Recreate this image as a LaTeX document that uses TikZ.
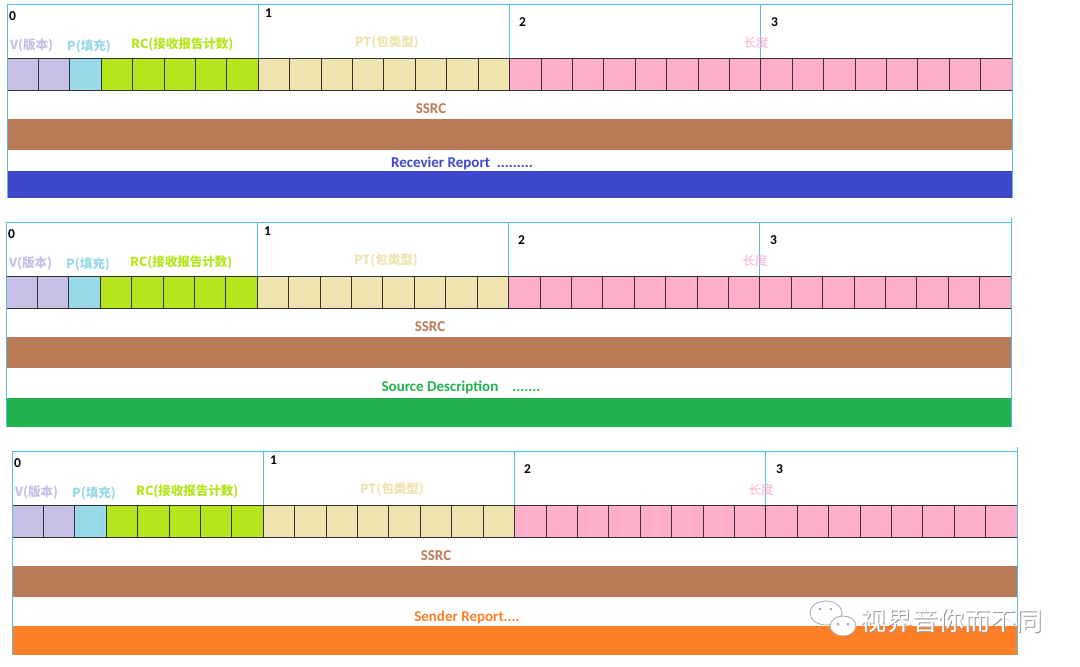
\documentclass[tikz,border=0pt]{standalone}
\usepackage{fontspec}
\setmainfont{Carlito}
\newfontfamily\cjk{Noto Sans CJK SC}
\definecolor{vcol}{HTML}{C8BFE7}
\definecolor{pcol}{HTML}{99D9EA}
\definecolor{rccol}{HTML}{B5E61D}
\definecolor{ptcol}{HTML}{EFE4B0}
\definecolor{lencol}{HTML}{FFAEC9}
\definecolor{ssrccol}{HTML}{B97A57}
\definecolor{rrcol}{HTML}{3F48CC}
\definecolor{sdcol}{HTML}{22B14C}
\definecolor{srcol}{HTML}{FF7F27}
\definecolor{guideblue}{HTML}{4FBFEA}
\definecolor{cellline}{HTML}{333333}

\tikzset{
  cell/.style={draw=cellline, line width=0.8pt},
  guide/.style={draw=guideblue, line width=1pt},
  bitnum/.style={font=\bfseries\fontsize{13.5}{14}\selectfont, anchor=west, inner sep=0pt},
  field/.style={font=\cjk\bfseries\fontsize{12.5}{13}\selectfont, inner sep=0pt},
  title/.style={font=\bfseries\fontsize{15}{15}\selectfont, inner sep=0pt},
}

% one RTCP header: #1,#2 origin, #3 name, #4 report text, #5 colour,
% #6 label y, #7/#8 band top/bottom
\newcommand{\rtcppanel}[8]{
  \begin{scope}[shift={(#1,#2)}]
    \foreach \a/\b/\c in {0/1/vcol,2/2/pcol,3/7/rccol,8/15/ptcol,16/31/lencol}
      \foreach \i in {\a,...,\b}
        \filldraw[cell, fill=\c] (\i*31.406,54) rectangle ++(31.406,32);
    \fill[ssrccol] (0,115) rectangle (1005,146);
    \fill[#5] (0,#7) rectangle (1005,#8);
    \draw[guide] (0,0) -- (1005,0);
    \draw[guide] (0,0) -- (0,#8);
    \draw[guide] (1005,-4) -- (1005,#8);
    \foreach \k in {1,2,3}
      \draw[guide] (\k*251.25,0) -- (\k*251.25,54);
    \node[bitnum] (#3b0) at (2,12) {0};
    \node[bitnum] (#3b1) at (258,9) {1};
    \node[bitnum] (#3b2) at (512,18) {2};
    \node[bitnum] (#3b3) at (764,18) {3};
    \node[field, anchor=west, text=vcol] (#3v) at (3,41) {V(版本)};
    \node[field, anchor=west, text=pcol] (#3p) at (60,42) {P(填充)};
    \node[field, anchor=west, text=rccol] (#3rc) at (124,40) {RC(接收报告计数)};
    \node[field, text=ptcol] (#3pt) at (380,38) {PT(包类型)};
    \node[field, text=lencol, font=\cjk\fontsize{12.5}{13}\selectfont] (#3len) at (749,39) {长度};
    \node[title, text=ssrccol] (#3ssrc) at (424,105) {SSRC};
    \node[title, text=#5] (#3rep) at (455,#6) {#4};
  \end{scope}
}

\begin{document}
\begin{tikzpicture}[x=1pt,y=-1pt]
  \useasboundingbox (0,0) rectangle (1080,667);
  \fill[white] (0,0) rectangle (1080,667);
  \rtcppanel{7}{4}{rr}{Recevier Report\ \ .........}{rrcol}{159}{167}{194}
  \rtcppanel{6}{222}{sd}{Source Description\hspace{14pt}.......}{sdcol}{165}{176}{205}
  \rtcppanel{12}{451}{sr}{Sender Report....}{srcol}{166}{175}{204}
  % watermark
  \filldraw[fill=white, draw=gray!70, line width=0.8pt] (826,613) ellipse (16 and 12);
  \filldraw[fill=white, draw=gray!70, line width=0.8pt] (843,626) ellipse (13 and 10);
  \foreach \dx/\dy in {820/609,831/609,838/624,848/624}
    \fill[gray!70] (\dx,\dy) circle (1.5);
  \node[font=\cjk\fontsize{26}{26}\selectfont, text=gray!80, inner sep=0pt] (wmshadow) at (952.5,621.5) {视界音你而不同};
  \node[font=\cjk\fontsize{26}{26}\selectfont, text=white, inner sep=0pt] (wm) at (951.5,620.5) {视界音你而不同};
\end{tikzpicture}
\end{document}
